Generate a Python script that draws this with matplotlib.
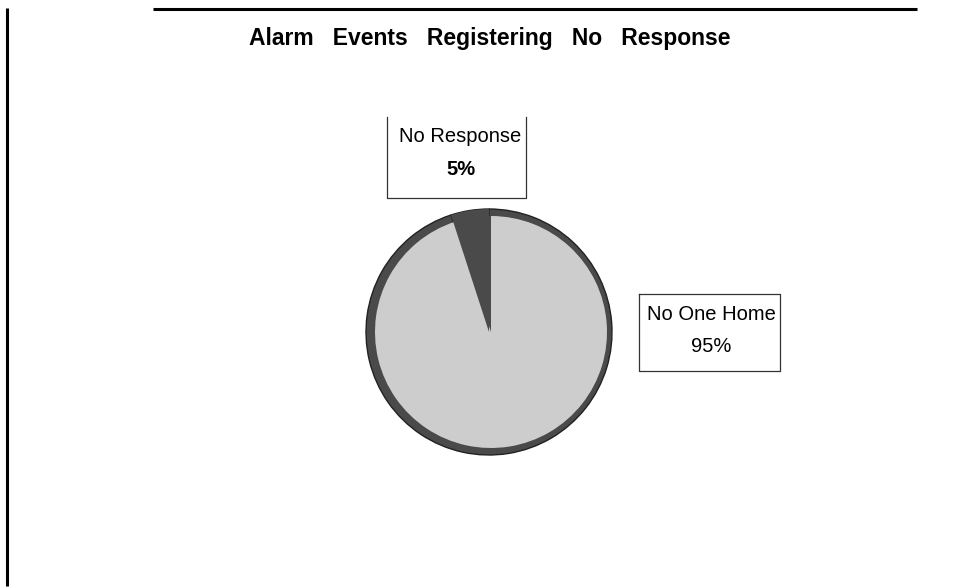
import matplotlib
matplotlib.use("Agg")
import matplotlib.pyplot as plt

# ---- data ----
categories = ["No Response", "No One Home"]
shares = [5, 95]
pct_labels = ["5%", "95%"]
title_text = "Alarm   Events   Registering   No   Response"

W, H = 962, 587
DARK = "#4a4a4a"
LIGHT = "#cdcdcd"

plt.rcParams['font.family'] = ['Liberation Sans', 'DejaVu Sans']

fig = plt.figure(figsize=(W / 100, H / 100), dpi=100)
ax = fig.add_axes([0, 0, 1, 1])


def Y(p):
    return H - p


cx, cy, r = 489, Y(332), 123

# dark base disc (scan edge), then slices
ax.pie(shares, colors=[DARK, DARK], startangle=90, counterclock=True,
       center=(cx, cy), radius=r,
       wedgeprops=dict(edgecolor="#222222", linewidth=1.0))
ax.pie(shares, colors=[DARK, LIGHT], startangle=90, counterclock=True,
       center=(cx + 2, cy), radius=r - 7,
       wedgeprops=dict(edgecolor="none", linewidth=0))
# dark slice reaches the full radius
ax.pie(shares, colors=[DARK, (0, 0, 0, 0)], startangle=90,
       counterclock=True, center=(cx, cy), radius=r,
       wedgeprops=dict(edgecolor="none", linewidth=0))

ax.set_xlim(0, W)
ax.set_ylim(0, H)
ax.set_aspect('auto')
ax.axis('off')

# frame lines
ax.plot([153, 917], [Y(8.5), Y(8.5)], color="black", lw=2.2, solid_capstyle='butt')
ax.plot([7.5, 7.5], [Y(8), Y(586)], color="black", lw=2.2, solid_capstyle='butt')

# title
ax.text(490, Y(45), title_text, ha='center', va='baseline',
        fontsize=16.5, fontweight='bold', color='black')

# label box: No Response (left, right, bottom borders)
bx0, bx1, by0, by1 = 387, 526, 117, 197.5
ax.plot([bx0, bx0, bx1, bx1], [Y(by0), Y(by1), Y(by1), Y(by0)],
        color="#333333", lw=0.9)
ax.text(460, Y(141.5), categories[0], ha='center', va='baseline', fontsize=14.5)
ax.text(461, Y(175), pct_labels[0], ha='center', va='baseline', fontsize=14.5,
        fontweight='bold')

# label box: No One Home
px0, px1, py0, py1 = 639, 780, 294, 371
ax.plot([px0, px0, px1, px1, px0], [Y(py0), Y(py1), Y(py1), Y(py0), Y(py0)],
        color="#333333", lw=0.9)
ax.text(711, Y(320), categories[1], ha='center', va='baseline', fontsize=14.5)
ax.text(711, Y(351.5), pct_labels[1], ha='center', va='baseline', fontsize=14.5)

fig.savefig("out.png", dpi=100)
